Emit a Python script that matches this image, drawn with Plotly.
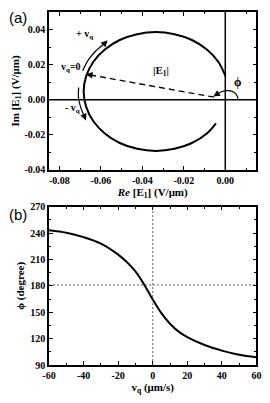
import plotly.graph_objects as go

# ---------------- data: panel (a) locus of E1 in the complex plane ----------------
re_e1 = [0.0001, -0.0034, -0.0089, -0.0161, -0.0245, -0.0335, -0.0425, -0.0509,
         -0.0581, -0.0636, -0.0671, -0.0683, -0.0671, -0.0636, -0.0581, -0.0509,
         -0.0425, -0.0335, -0.0245, -0.0161, -0.0089, -0.0045]
im_e1 = [0.0135, 0.0217, 0.0287, 0.0341, 0.0374, 0.0386, 0.0374, 0.0341,
         0.0287, 0.0217, 0.0135, 0.0047, -0.0041, -0.0123, -0.0193, -0.0247,
         -0.0280, -0.0292, -0.0280, -0.0247, -0.0193, -0.0135]

# direction arrows drawn beside the locus
plus_arrow_re = [-0.0688, -0.0662, -0.0625, -0.0585]
plus_arrow_im = [0.0165, 0.0225, 0.0278, 0.0318]
minus_arrow_re = [-0.0707, -0.0708, -0.0697, -0.0680]
minus_arrow_im = [0.0070, 0.0010, -0.0045, -0.0095]

# |E1| vector and phase arc
vec_re = [-0.0054, -0.0655]
vec_im = [0.0015, 0.0142]
phi_arc_re = [0.0062, 0.0050, 0.0030, 0.0008, -0.0015, -0.0035]
phi_arc_im = [0.0006, 0.0035, 0.0049, 0.0052, 0.0047, 0.0035]

# ---------------- data: panel (b) phase vs velocity ----------------
vq = [-60, -50, -40, -30, -20, -15, -10, -5, 0, 5, 10, 15, 20, 30, 40, 50, 60]
phi = [243.1, 240.3, 235.3, 228.0, 215.5, 207.0, 196.3, 181.5, 164.5,
       149.0, 137.0, 128.0, 121.8, 112.8, 106.5, 101.8, 98.9]

xa_ticks = [-0.08, -0.06, -0.04, -0.02, 0.00]
xa_text = ["-0.08", "-0.06", "-0.04", "-0.02", "0.00"]
ya_ticks = [-0.04, -0.02, 0.00, 0.02, 0.04]
ya_text = ["-0.04", "-0.02", "0.00", "0.02", "0.04"]
xb_ticks = [-60, -40, -20, 0, 20, 40, 60]
xb_text = ["-60", "-40", "-20", "0", "20", "40", "60"]
yb_ticks = [90, 120, 150, 180, 210, 240, 270]
yb_text = ["90", "120", "150", "180", "210", "240", "270"]

SERIF = "Liberation Serif"
tickfont = dict(family=SERIF, size=10, color="black")
titlefont = dict(family=SERIF, size=11, color="black")

fig = go.Figure()

fig.add_trace(go.Scatter(x=re_e1, y=im_e1, mode="lines", line=dict(color="black", width=2, shape="spline"),
                         xaxis="x", yaxis="y", showlegend=False, hoverinfo="skip"))
fig.add_trace(go.Scatter(x=plus_arrow_re, y=plus_arrow_im, mode="lines",
                         line=dict(color="black", width=1.2, shape="spline"),
                         xaxis="x", yaxis="y", showlegend=False, hoverinfo="skip"))
fig.add_trace(go.Scatter(x=minus_arrow_re, y=minus_arrow_im, mode="lines",
                         line=dict(color="black", width=1.2, shape="spline"),
                         xaxis="x", yaxis="y", showlegend=False, hoverinfo="skip"))
fig.add_trace(go.Scatter(x=vec_re, y=vec_im, mode="lines", line=dict(color="black", width=1.3, dash="6px,4px"),
                         xaxis="x", yaxis="y", showlegend=False, hoverinfo="skip"))
fig.add_trace(go.Scatter(x=phi_arc_re, y=phi_arc_im, mode="lines",
                         line=dict(color="black", width=1.2, shape="spline"),
                         xaxis="x", yaxis="y", showlegend=False, hoverinfo="skip"))

fig.add_trace(go.Scatter(x=vq, y=phi, mode="lines", line=dict(color="black", width=2, shape="spline"),
                         xaxis="x2", yaxis="y2", showlegend=False, hoverinfo="skip"))

def axis(rng, dom, anchor, tv, tt, minor_dtick, title, standoff):
    return dict(range=rng, domain=dom, anchor=anchor, tickvals=tv, ticktext=["<b>%s</b>" % t for t in tt],
                ticks="inside", ticklen=4, tickwidth=1.3, tickcolor="black",
                minor=dict(ticks="inside", dtick=minor_dtick, ticklen=2.5, tickwidth=1.2, tickcolor="black"),
                showline=True, linecolor="black", linewidth=1.5, mirror="allticks",
                showgrid=False, zeroline=False, tickfont=tickfont,
                title=dict(text=title, font=titlefont, standoff=standoff))

xdom = [44 / 270, 261 / 270]
ya_dom = [1 - 169 / 403, 1 - 7.3 / 403]
yb_dom = [1 - 369.3 / 403, 1 - 206.7 / 403]

fig.update_layout(
    width=270, height=403, margin=dict(l=0, r=0, t=0, b=0),
    paper_bgcolor="white", plot_bgcolor="white",
    xaxis=axis([-0.085, 0.015], xdom, "y", xa_ticks, xa_text, 0.01,
               "<b><i>Re</i> [E<sub>1</sub>] (V/μm)</b>", 3),
    yaxis=axis([-0.04, 0.05], ya_dom, "x", ya_ticks, ya_text, 0.01,
               "<b>Im [E<sub>1</sub>] (V/μm)</b>", 3),
    xaxis2=axis([-60, 60], xdom, "y2", xb_ticks, xb_text, 10,
                "<b>v<sub>q</sub></b> <b>(μm/s)</b>", 3),
    yaxis2=axis([90, 270], yb_dom, "x2", yb_ticks, yb_text, 15,
                "<b>ϕ (degree)</b>", 3),
)

shapes = [
    dict(type="line", xref="x", yref="y domain", x0=0, x1=0, y0=0, y1=1, line=dict(color="black", width=1.5)),
    dict(type="line", xref="x domain", yref="y", x0=0, x1=1, y0=0, y1=0, line=dict(color="black", width=1.5)),
    dict(type="line", xref="x2", yref="y2 domain", x0=0, x1=0, y0=0, y1=1, line=dict(color="#333", width=0.8, dash="2px,2px")),
    dict(type="line", xref="x2 domain", yref="y2", x0=0, x1=1, y0=181, y1=181, line=dict(color="#333", width=0.8, dash="2px,2px")),
]
fig.update_layout(shapes=shapes)

ann = []
def arrowhead(xh, yh, xt, yt):
    ann.append(dict(x=xh, y=yh, ax=xt, ay=yt, xref="x", yref="y", axref="x", ayref="y",
                    text="", showarrow=True, arrowhead=2, arrowsize=1.1, arrowwidth=1.2, arrowcolor="black"))

arrowhead(-0.0568, 0.0340, plus_arrow_re[-1], plus_arrow_im[-1])
arrowhead(-0.0672, -0.0118, minus_arrow_re[-1], minus_arrow_im[-1])
arrowhead(-0.0672, 0.0145, vec_re[-1], vec_im[-1])
arrowhead(-0.0058, 0.0018, phi_arc_re[-1], phi_arc_im[-1])

def label(x, y, text, size=10, xref="x", yref="y"):
    ann.append(dict(x=x, y=y, xref=xref, yref=yref, text=text, showarrow=False,
                    font=dict(family=SERIF, size=size, color="black")))

label(-0.0680, 0.0375, "<b>+ v<sub>q</sub></b>")
label(-0.0742, 0.0185, "<b>v<sub>q</sub>=0</b>")
label(-0.0735, -0.0050, "<b>- v<sub>q</sub></b>")
label(-0.0310, 0.0165, "<b>|E<sub>1</sub>|</b>", size=11)
label(0.0060, 0.0100, "<b>ϕ</b>", size=12)

ann.append(dict(x=0.0, y=1 - 2 / 403, xref="paper", yref="paper", xanchor="left", yanchor="top",
                text="(a)", showarrow=False, font=dict(family="Liberation Sans", size=15, color="black")))
ann.append(dict(x=0.0, y=1 - 204 / 403, xref="paper", yref="paper", xanchor="left", yanchor="top",
                text="(b)", showarrow=False, font=dict(family="Liberation Sans", size=15, color="black")))
fig.update_layout(annotations=ann)

fig.write_html("out.html")
